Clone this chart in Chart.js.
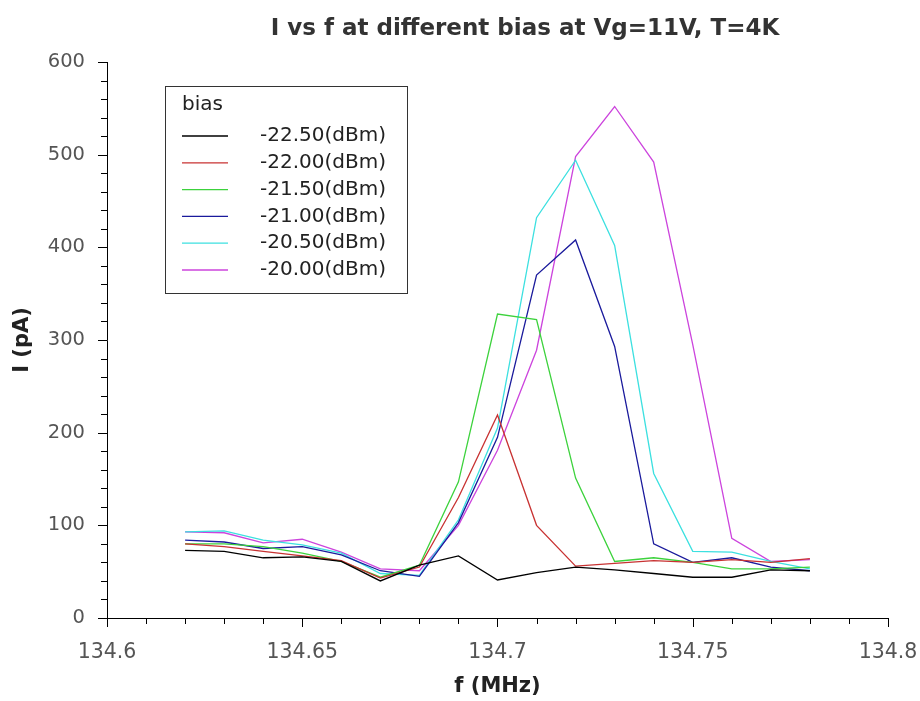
<!DOCTYPE html>
<html>
<head>
<meta charset="utf-8">
<script src="https://cdn.jsdelivr.net/npm/chart.js@4.4.1/dist/chart.umd.min.js"></script>
<style>
  html, body { margin: 0; padding: 0; background: #fff; }
  #wrap { width: 920px; height: 701px; }
</style>
</head>
<body>
<div id="wrap"><canvas id="ivf_chart" width="920" height="701"></canvas></div>
<script>
const chartTitle = "I vs f at different bias at Vg=11V, T=4K";
const legendTitle = "bias";
const freqs = [134.62, 134.63, 134.64, 134.65, 134.66, 134.67, 134.68, 134.69, 134.70,
               134.71, 134.72, 134.73, 134.74, 134.75, 134.76, 134.77, 134.78];

const biasLabels = ["-22.50(dBm)", "-22.00(dBm)", "-21.50(dBm)", "-21.00(dBm)", "-20.50(dBm)", "-20.00(dBm)"];
const bias_22_50 = [73, 72, 65, 66, 61, 40, 57, 67, 41, 49, 55, 52, 48, 44, 44, 52, 51];
const bias_22_00 = [80, 77, 72, 67, 62, 43, 55, 130, 219, 100, 56, 59, 62, 60, 63, 60, 64];
const bias_21_50 = [80, 80, 77, 70, 61, 44, 57, 147, 328, 322, 151, 61, 65, 60, 53, 53, 55];
const bias_21_00 = [84, 82, 75, 77, 68, 51, 45, 103, 195, 370, 408, 293, 80, 60, 65, 55, 51];
const bias_20_50 = [93, 94, 84, 79, 70, 48, 46, 106, 205, 432, 494, 402, 156, 72, 71, 61, 53];
const bias_20_00 = [93, 92, 81, 85, 71, 53, 51, 100, 181, 289, 498, 552, 492, 295, 86, 61, 63];

const seriesValues = [bias_22_50, bias_22_00, bias_21_50, bias_21_00, bias_20_50, bias_20_00];
const lineColors = ["#000000", "#c83232", "#3cd23c", "#1a1a9c", "#3ce0e0", "#cc44dd"];

const FONT = "'DejaVu Sans', sans-serif";

const datasets = seriesValues.map((vals, i) => ({
    label: biasLabels[i],
    data: vals.map((v, j) => ({ x: freqs[j], y: v })),
    borderColor: lineColors[i],
    backgroundColor: lineColors[i],
    borderWidth: 1.3,
    pointRadius: 0,
    tension: 0,
    fill: false
}));

function isMultiple(v, step) {
    const r = v / step;
    return Math.abs(r - Math.round(r)) < 1e-6;
}

// minor / major tick marks drawn outside the plot
const tickMarks = {
    id: 'tickMarks',
    afterDraw(chart) {
        const c = chart.ctx;
        const xs = chart.scales.x, ys = chart.scales.y;
        const area = chart.chartArea;
        c.save();
        c.strokeStyle = '#000';
        c.lineWidth = 1;
        c.beginPath();
        c.moveTo(area.left + 0.5, area.top);
        c.lineTo(area.left + 0.5, area.bottom + 0.5);
        c.lineTo(area.right, area.bottom + 0.5);
        c.stroke();
        xs.ticks.forEach(t => {
            const px = Math.round(xs.getPixelForValue(t.value)) + 0.5;
            const len = isMultiple(t.value - 134.6, 0.05) ? 9 : 6;
            c.beginPath();
            c.moveTo(px, area.bottom);
            c.lineTo(px, area.bottom + len);
            c.stroke();
        });
        ys.ticks.forEach(t => {
            const py = Math.round(ys.getPixelForValue(t.value)) + 0.5;
            const len = isMultiple(t.value, 100) ? 9 : 6;
            c.beginPath();
            c.moveTo(area.left - len, py);
            c.lineTo(area.left, py);
            c.stroke();
        });
        c.restore();
    }
};

// boxed legend with a title, like the original plot
const boxLegend = {
    id: 'boxLegend',
    afterDraw(chart) {
        const c = chart.ctx;
        const bx = 165, by = 86, bw = 242, bh = 207;
        c.save();
        c.fillStyle = '#fff';
        c.fillRect(bx, by, bw, bh);
        c.strokeStyle = '#333';
        c.lineWidth = 1;
        c.strokeRect(bx + 0.5, by + 0.5, bw, bh);
        c.font = "20px " + FONT;
        c.fillStyle = '#222';
        c.textBaseline = 'middle';
        c.textAlign = 'left';
        c.fillText(legendTitle, bx + 17, by + 19);
        chart.data.datasets.forEach((ds, i) => {
            const y = by + 50 + i * 26.8;
            c.strokeStyle = ds.borderColor;
            c.lineWidth = 1.3;
            c.beginPath();
            c.moveTo(bx + 17, y);
            c.lineTo(bx + 63, y);
            c.stroke();
            c.fillStyle = '#222';
            c.fillText(ds.label, bx + 95, y);
        });
        c.restore();
    }
};

const plotTitle = {
    id: 'plotTitle',
    afterDraw(chart) {
        const c = chart.ctx;
        c.save();
        c.font = "bold 23px " + FONT;
        c.fillStyle = '#333';
        c.textAlign = 'center';
        c.textBaseline = 'middle';
        c.fillText(chartTitle, 525, 29);
        c.restore();
    }
};

const ctx = document.getElementById('ivf_chart').getContext('2d');
const ivfChart = new Chart(ctx, {
    type: 'line',
    data: { datasets: datasets },
    options: {
        responsive: false,
        animation: false,
        maintainAspectRatio: false,
        layout: { padding: { top: 62, right: 32, left: 0, bottom: 0 } },
        plugins: {
            legend: { display: false },
            title: { display: false },
            tooltip: { enabled: false }
        },
        scales: {
            x: {
                type: 'linear',
                min: 134.6,
                max: 134.8,
                afterFit: (s) => { s.height = 83; s.paddingLeft = 0; s.paddingRight = 0; },
                afterBuildTicks: (s) => {
                    s.ticks = [];
                    for (let k = 0; k <= 20; k++) s.ticks.push({ value: 134.6 + k * 0.01 });
                },
                border: { display: false },
                grid: { display: false, drawTicks: false },
                ticks: {
                    autoSkip: false,
                    maxRotation: 0,
                    padding: 22,
                    color: '#555',
                    font: { family: FONT, size: 20.5 },
                    callback: (v) => isMultiple(v - 134.6, 0.05) ? String(parseFloat(v.toFixed(2))) : ''
                },
                title: {
                    display: true,
                    text: 'f (MHz)',
                    color: '#222',
                    font: { family: FONT, size: 21, weight: 'bold' },
                    padding: { top: 0, bottom: 2 }
                }
            },
            y: {
                min: 0,
                max: 600,
                afterFit: (s) => { s.width = 107; s.paddingTop = 0; s.paddingBottom = 0; },
                afterBuildTicks: (s) => {
                    s.ticks = [];
                    for (let k = 0; k <= 30; k++) s.ticks.push({ value: k * 20 });
                },
                border: { display: false },
                grid: { display: false, drawTicks: false },
                ticks: {
                    autoSkip: false,
                    padding: 22,
                    color: '#555',
                    font: { family: FONT, size: 19.5 },
                    callback: (v) => isMultiple(v, 100) ? String(v) : ''
                },
                title: {
                    display: true,
                    text: 'I (pA)',
                    color: '#222',
                    font: { family: FONT, size: 21, weight: 'bold' },
                    padding: { top: 10, bottom: 0 }
                }
            }
        }
    },
    plugins: [tickMarks, boxLegend, plotTitle]
});
</script>
</body>
</html>
